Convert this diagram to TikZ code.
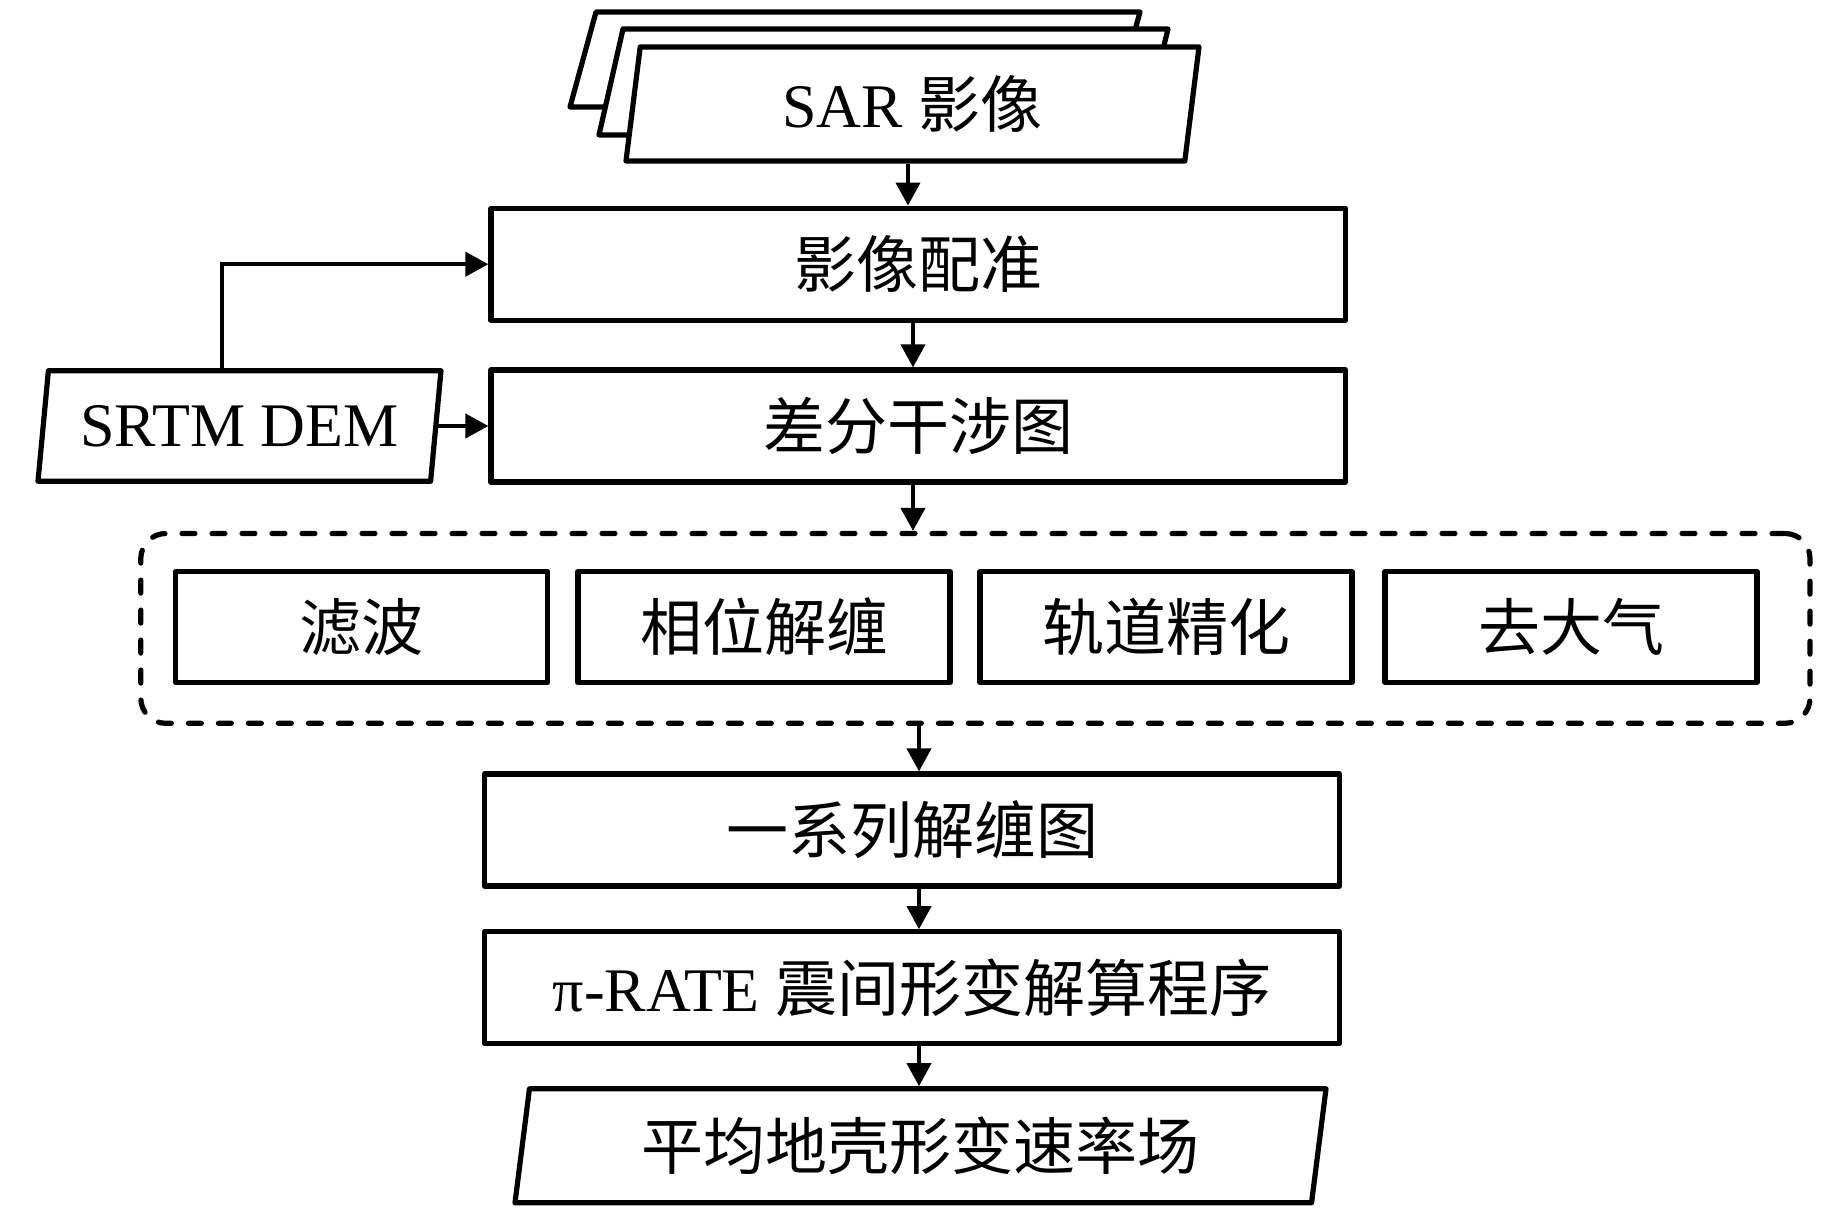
\documentclass[tikz,border=0pt]{standalone}
\usepackage{fontspec}
\setmainfont{Liberation Serif}
\newfontfamily\cjk{Noto Sans CJK SC}
\usetikzlibrary{shapes.geometric,arrows.meta}
\newcommand\bigf{\fontsize{31pt}{31pt}\selectfont}
\begin{document}
\begin{tikzpicture}[x=0.5pt,y=-0.5pt,
  box/.style={draw, line width=2.6pt, line join=round, rectangle, inner sep=0pt, font=\bigf, fill=white},
  bigbox/.style={box, minimum width=427.3pt, minimum height=56pt},
  smallbox/.style={box, minimum width=186pt, minimum height=55.5pt},
  para/.style={draw, line width=2.6pt, line join=round, trapezium, trapezium left angle=76, trapezium right angle=104,
    trapezium stretches body, inner sep=0pt, font=\bigf, fill=white},
  sheet/.style={draw, line width=2.6pt, line join=round, fill=white},
  grpbox/.style={draw, line width=2.6pt, dash pattern=on 6.5pt off 8.5pt, line cap=round,
    rounded corners=12.5pt, rectangle, inner sep=0pt, minimum width=834.6pt, minimum height=94.9pt},
  conn/.style={line width=2pt, -{Triangle[width=12pt,length=11.5pt]}}
]
\useasboundingbox[fill=white] (0,0) rectangle (1843,1208);

% SAR stack
\draw[sheet] (596,12) -- (1140,12) -- (1114,107) -- (570,107) -- cycle;
\draw[sheet] (623,29) -- (1168,29) -- (1142,135) -- (599,135) -- cycle;
\node[para, minimum width=286.5pt, minimum height=57pt] (sar) at (912.5,104) {SAR {\cjk 影像}};

% main boxes
\node[bigbox] (reg) at (918.3,264.2) {\cjk 影像配准};
\node[bigbox] (dif) at (918.3,426) {\cjk 差分干涉图};
\node[para, minimum width=201.5pt, minimum height=55.25pt] (srtm) at (239.5,426) {SRTM DEM};

% group
\node[grpbox] (grp) at (975.4,628.4) {};
\node[smallbox] (f1) at (361.7,627) {\cjk 滤波};
\node[smallbox] (f2) at (764,627) {\cjk 相位解缠};
\node[smallbox] (f3) at (1166,627) {\cjk 轨道精化};
\node[smallbox] (f4) at (1571,627) {\cjk 去大气};

\node[bigbox] (ser) at (912,830) {\cjk 一系列解缠图};
\node[bigbox] (rate) at (912,987.8) {π-RATE {\cjk 震间形变解算程序}};
\node[para, minimum width=405.5pt, minimum height=57pt] (out) at (920.5,1145.8) {\cjk 平均地壳形变速率场};

% connector columns
\coordinate (cA) at (908,0);
\coordinate (cB) at (913,0);
\coordinate (cC) at (919,0);
\coordinate (cS) at (222,0);

\draw[conn] (sar.south -| cA) -- (reg.north -| cA);
\draw[conn] (reg.south -| cB) -- (dif.north -| cB);
\draw[conn] (dif.south -| cB) -- (grp.north -| cB);
\draw[conn] (grp.south -| cC) -- (ser.north -| cC);
\draw[conn] (ser.south -| cC) -- (rate.north -| cC);
\draw[conn] (rate.south -| cC) -- (out.north -| cC);
\draw[conn] (srtm.north -| cS) |- (reg.west);
\draw[conn] (srtm.east) -- (srtm.east -| dif.west);
\end{tikzpicture}
\end{document}
